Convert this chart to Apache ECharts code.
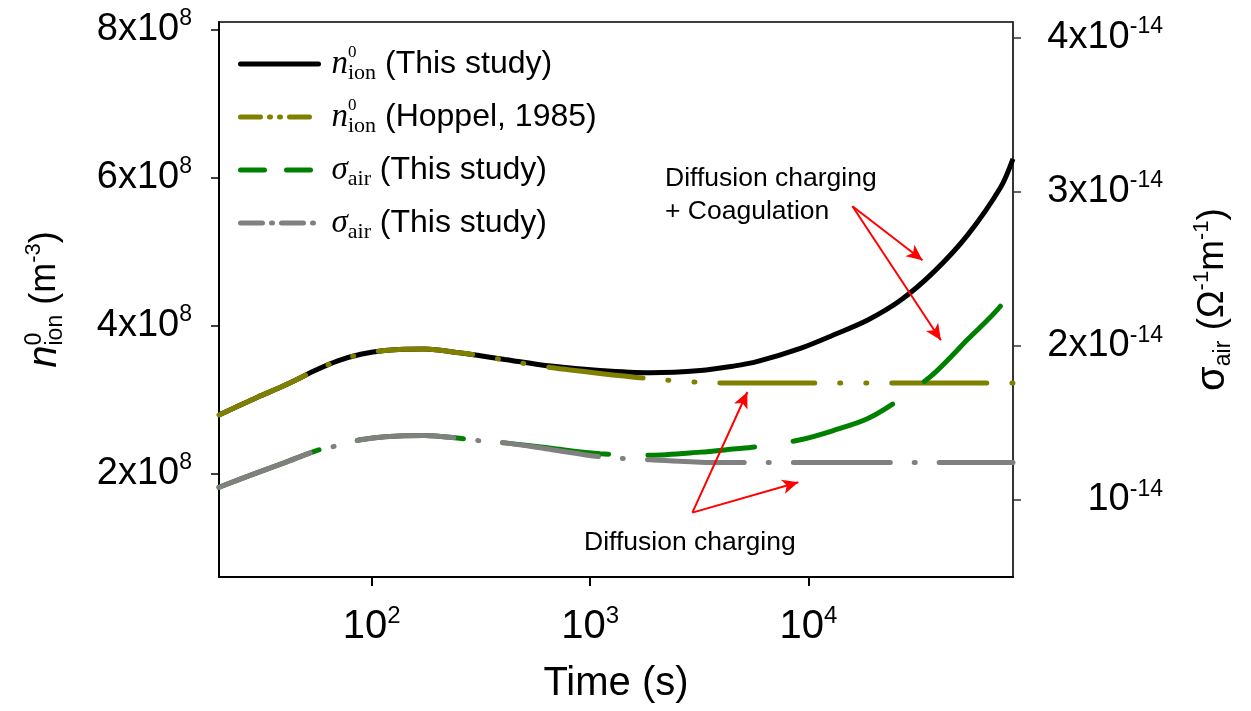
<!DOCTYPE html>
<html>
<head>
<meta charset="utf-8">
<script src="https://cdn.jsdelivr.net/npm/echarts@6/dist/echarts.min.js"></script>
<style>
  html, body { margin: 0; padding: 0; background: #fff; }
  #chart { width: 1251px; height: 711px; }
</style>
</head>
<body>
<div id="chart"></div>
<script>
// time (s)
const time = [20, 30, 40, 56, 70, 89, 115, 175, 253, 330, 407, 661, 1111, 1884, 3200, 4530, 5800, 9180, 13000, 18600, 26400, 37400, 53500, 76000, 86400];

// n_ion^0 (m^-3), left axis
const nIonThis = [2.79e8, 3.03e8, 3.19e8, 3.40e8, 3.52e8, 3.61e8, 3.66e8, 3.68e8, 3.63e8, 3.58e8, 3.54e8, 3.45e8, 3.39e8, 3.36e8, 3.39e8, 3.45e8, 3.51e8, 3.69e8, 3.87e8, 4.07e8, 4.34e8, 4.72e8, 5.22e8, 5.87e8, 6.25e8];
const nIonHoppel = [2.79e8, 3.03e8, 3.19e8, 3.40e8, 3.52e8, 3.61e8, 3.66e8, 3.68e8, 3.63e8, 3.58e8, 3.53e8, 3.43e8, 3.35e8, 3.28e8, 3.23e8, 3.22e8, 3.22e8, 3.22e8, 3.22e8, 3.22e8, 3.22e8, 3.22e8, 3.22e8, 3.22e8, 3.22e8];

// sigma_air (ohm^-1 m^-1), right axis
const sigmaThis = [1.082e-14, 1.177e-14, 1.242e-14, 1.32e-14, 1.353e-14, 1.39e-14, 1.41e-14, 1.418e-14, 1.40e-14, 1.38e-14, 1.37e-14, 1.335e-14, 1.30e-14, 1.29e-14, 1.31e-14, 1.33e-14, 1.345e-14, 1.39e-14, 1.45e-14, 1.526e-14, 1.656e-14, 1.818e-14, 2.04e-14, 2.26e-14, 2.41e-14];
const sigmaHoppel = [1.082e-14, 1.177e-14, 1.242e-14, 1.32e-14, 1.353e-14, 1.39e-14, 1.41e-14, 1.418e-14, 1.40e-14, 1.38e-14, 1.37e-14, 1.327e-14, 1.28e-14, 1.26e-14, 1.245e-14, 1.243e-14, 1.243e-14, 1.243e-14, 1.243e-14, 1.243e-14, 1.243e-14, 1.243e-14, 1.243e-14, 1.243e-14, 1.243e-14];

// ticks
const xTicks = [100, 1000, 10000];
const xLabels = ['10{sup|2}', '10{sup|3}', '10{sup|4}'];
const yLeftTicks = [2e8, 4e8, 6e8, 8e8];
const yLeftLabels = ['2x10{sup|8}', '4x10{sup|8}', '6x10{sup|8}', '8x10{sup|8}'];
const yRightTicks = [1e-14, 2e-14, 3e-14, 4e-14];
const yRightLabels = ['10{sup|-14}', '2x10{sup|-14}', '3x10{sup|-14}', '4x10{sup|-14}'];

// legend
const seriesNames = ['nThis', 'nHoppel', 'sThis', 'sHoppel'];
const legendLabels = [
  '{n|n}{z|0}{ion|ion} (This study)',
  '{n|n}{z|0}{ion|ion} (Hoppel, 1985)',
  '{s|σ}{air|air} (This study)',
  '{s|σ}{air|air} (This study)'
];

// annotation arrows [t0, n0, t1, n1] on the left axis
const arrows = [
  [15900, 5.61e8, 33300, 4.88e8],
  [15900, 5.61e8, 40400, 3.80e8],
  [2940, 1.47e8, 5250, 3.10e8],
  [2940, 1.47e8, 8990, 1.88e8]
];
const noteUpper = 'Diffusion charging\n+ Coagulation';
const noteLower = 'Diffusion charging';

const SANS = '"Liberation Sans", Arial, sans-serif';
const SERIF = '"Liberation Serif", "Times New Roman", serif';

function pick(ticks, labels) {
  return (v) => {
    const i = ticks.findIndex(t => Math.abs(t - v) <= Math.abs(t) * 1e-6);
    return i < 0 ? '' : labels[i];
  };
}

const pairs = (ys) => time.map((t, i) => [t, ys[i]]);

const dashHoppelN = [95, 25, 1, 25, 1, 25];
const dashThisS = [107, 39];
const dashHoppelS = [97, 24, 1, 24];

const chart = echarts.init(document.getElementById('chart'));

const option = {
  animation: false,
  backgroundColor: '#fff',
  grid: {
    left: 219, right: 238, top: 22, bottom: 134,
    show: true, borderColor: '#000', borderWidth: 1.5,
    outerBoundsMode: 'none'
  },
  legend: {
    orient: 'vertical',
    left: 233,
    top: 39,
    itemWidth: 78,
    itemHeight: 14,
    itemGap: 13,
    selectedMode: false,
    itemStyle: { opacity: 0 },
    formatter: (name) => legendLabels[seriesNames.indexOf(name)],
    textStyle: {
      fontFamily: SANS, fontSize: 32, color: '#000', lineHeight: 40,
      rich: {
        n: { fontFamily: SERIF, fontStyle: 'italic', fontSize: 33, padding: [0, 0, 0, 8] },
        z: { fontFamily: SERIF, fontSize: 17, verticalAlign: 'top', width: 0 },
        ion: { fontFamily: SERIF, fontSize: 22, verticalAlign: 'bottom' },
        s: { fontFamily: SERIF, fontStyle: 'italic', fontSize: 33, padding: [0, 0, 0, 8] },
        air: { fontFamily: SERIF, fontSize: 22, verticalAlign: 'bottom' }
      }
    },
    data: [
      { name: 'nThis', lineStyle: { color: '#000', width: 5, type: 'solid', cap: 'round' } },
      { name: 'nHoppel', lineStyle: { color: '#808000', width: 5, type: [20, 9, 1, 9, 1, 9], cap: 'round' } },
      { name: 'sThis', lineStyle: { color: '#008000', width: 5, type: [24, 22], cap: 'round' } },
      { name: 'sHoppel', lineStyle: { color: '#808080', width: 5, type: [22, 9, 1, 9], cap: 'round' } }
    ]
  },
  xAxis: {
    type: 'log',
    logBase: 10,
    min: 20,
    max: 86400,
    name: 'Time (s)',
    nameLocation: 'middle',
    nameGap: 87,
    nameTextStyle: { fontFamily: SANS, fontSize: 40, color: '#000' },
    axisLine: { show: true, lineStyle: { color: '#000', width: 2 } },
    axisTick: { show: true, length: 9, customValues: xTicks, lineStyle: { color: '#000', width: 2 } },
    minorTick: { show: false },
    splitLine: { show: false },
    axisLabel: {
      customValues: xTicks,
      formatter: pick(xTicks, xLabels),
      margin: 27,
      fontFamily: SANS, fontSize: 40, color: '#000', lineHeight: 46,
      rich: { sup: { fontFamily: SANS, fontSize: 24, verticalAlign: 'top' } }
    }
  },
  yAxis: [
    {
      type: 'value',
      position: 'left',
      min: 6e7,
      max: 8.1e8,
      name: '{n|n}{z|0}{ion|ion}{t| (m}{sup|-3}{t|)}',
      nameLocation: 'middle',
      nameRotate: 90,
      nameGap: 152,
      nameTextStyle: {
        fontFamily: SANS, fontSize: 36, color: '#000', lineHeight: 44,
        rich: {
          n: { fontFamily: SANS, fontStyle: 'italic', fontSize: 40, align: 'left' },
          z: { fontFamily: SANS, fontSize: 23, verticalAlign: 'top', width: 0, align: 'left' },
          ion: { fontFamily: SANS, fontSize: 23, verticalAlign: 'bottom', align: 'left' },
          t: { fontFamily: SANS, fontSize: 36, align: 'left' },
          sup: { fontFamily: SANS, fontSize: 22, verticalAlign: 'top', align: 'left' }
        }
      },
      axisLine: { show: true, lineStyle: { color: '#000', width: 2 } },
      axisTick: { show: true, length: 8, customValues: yLeftTicks, lineStyle: { color: '#000', width: 1.5 } },
      splitLine: { show: false },
      axisLabel: {
        customValues: yLeftTicks,
        formatter: pick(yLeftTicks, yLeftLabels),
        margin: 27,
        fontFamily: SANS, fontSize: 38, color: '#000', lineHeight: 44,
        rich: { sup: { fontFamily: SANS, fontSize: 23, verticalAlign: 'top' } }
      }
    },
    {
      type: 'value',
      position: 'right',
      min: 0.5e-14,
      max: 4.1e-14,
      name: '{s|σ}{air|air} (Ω{sup|-1}m{sup|-1})',
      nameLocation: 'middle',
      nameRotate: 90,
      nameGap: 178,
      nameTextStyle: {
        fontFamily: SANS, fontSize: 37, color: '#000', lineHeight: 44,
        rich: {
          s: { fontFamily: SANS, fontSize: 40 },
          air: { fontFamily: SANS, fontSize: 23, verticalAlign: 'bottom' },
          sup: { fontFamily: SANS, fontSize: 22, verticalAlign: 'top' }
        }
      },
      axisLine: { show: true, lineStyle: { color: '#333', width: 1.5 } },
      axisTick: { show: true, length: 8, customValues: yRightTicks, lineStyle: { color: '#333', width: 1.5 } },
      splitLine: { show: false },
      axisLabel: {
        customValues: yRightTicks,
        formatter: pick(yRightTicks, yRightLabels),
        margin: 150,
        align: 'right',
        fontFamily: SANS, fontSize: 38, color: '#000', lineHeight: 44,
        rich: { sup: { fontFamily: SANS, fontSize: 23, verticalAlign: 'top' } }
      }
    }
  ],
  series: [
    {
      name: 'nThis', type: 'line', yAxisIndex: 0, data: pairs(nIonThis),
      symbol: 'none', smooth: 0.3,
      lineStyle: { color: '#000', width: 5 }, itemStyle: { color: '#000' },
      markLine: {
        silent: true,
        symbol: ['none', 'arrow'],
        symbolSize: [11, 16],
        label: { show: false },
        lineStyle: { color: '#f00', width: 2, type: 'solid' },
        data: arrows.map(a => [{ coord: [a[0], a[1]] }, { coord: [a[2], a[3]] }])
      }
    },
    {
      name: 'nHoppel', type: 'line', yAxisIndex: 0, data: pairs(nIonHoppel),
      symbol: 'none', smooth: 0.3,
      lineStyle: { color: '#808000', width: 5, type: dashHoppelN, cap: 'round' }, itemStyle: { color: '#808000' }
    },
    {
      name: 'sThis', type: 'line', yAxisIndex: 1, data: pairs(sigmaThis),
      symbol: 'none', smooth: 0.3,
      lineStyle: { color: '#008000', width: 5, type: dashThisS, cap: 'round' }, itemStyle: { color: '#008000' }
    },
    {
      name: 'sHoppel', type: 'line', yAxisIndex: 1, data: pairs(sigmaHoppel),
      symbol: 'none', smooth: 0.3,
      lineStyle: { color: '#808080', width: 5, type: dashHoppelS, cap: 'round' }, itemStyle: { color: '#808080' }
    }
  ],
  graphic: [
    { type: 'text', left: 665, top: 162, style: { text: noteUpper, font: '26.5px ' + SANS, fill: '#000', lineHeight: 33 } },
    { type: 'text', left: 584, top: 529, style: { text: noteLower, font: '26.5px ' + SANS, fill: '#000' } }
  ]
};

chart.setOption(option);
</script>
</body>
</html>
